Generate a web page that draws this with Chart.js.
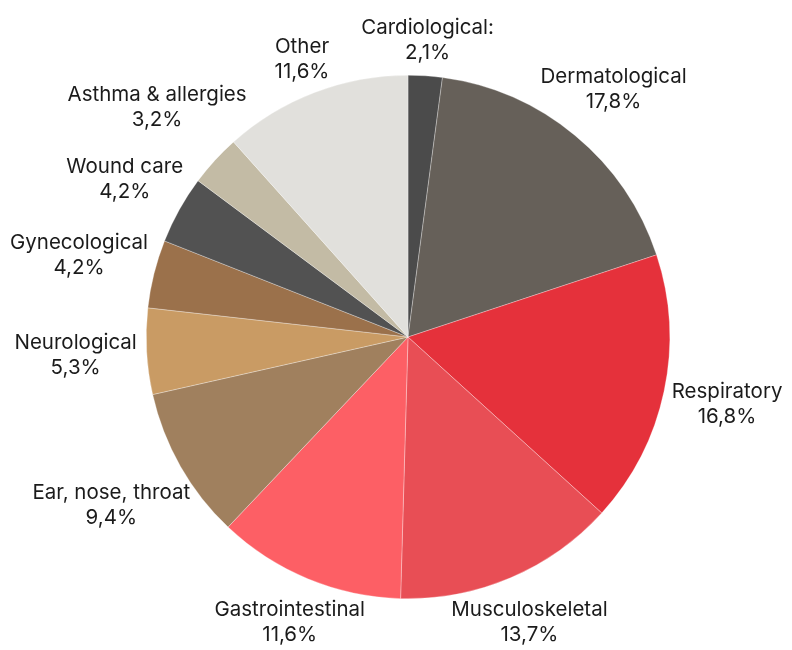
<!DOCTYPE html>
<html>
<head>
<meta charset="utf-8">
<script src="https://cdn.jsdelivr.net/npm/chart.js@4/dist/chart.umd.min.js"></script>
<style>
  html, body { margin: 0; padding: 0; background: #fff; }
  #wrap { width: 792px; height: 650px; }
</style>
</head>
<body>
<div id="wrap"><canvas id="myChart" width="792" height="650"></canvas></div>
<script>
// categories, clockwise from 12 o'clock
const categories = ['Cardiological:', 'Dermatological', 'Respiratory', 'Musculoskeletal',
  'Gastrointestinal', 'Ear, nose, throat', 'Neurological', 'Gynecological',
  'Wound care', 'Asthma & allergies', 'Other'];
const shares = [2.1, 17.8, 16.8, 13.7, 11.6, 9.4, 5.3, 4.2, 4.2, 3.2, 11.6];
const sliceColors = ['#4b4b4b', '#666059', '#e5313b', '#e84e55', '#fd5f65', '#a0805e',
  '#c99b64', '#9b714b', '#525252', '#c3bba5', '#e1e0dc'];

const FONT = '20.5px Inter';
const LINE_H = 25;

// draws "name / value%" outside each slice
const outsideLabels = {
  id: 'outsideLabels',
  afterDatasetsDraw(chart) {
    const ctx = chart.ctx;
    const arcs = chart.getDatasetMeta(0).data;
    ctx.save();
    ctx.font = FONT;
    ctx.fillStyle = '#1b1b1b';
    ctx.textAlign = 'center';
    ctx.textBaseline = 'middle';
    arcs.forEach((arc, i) => {
      const lines = [categories[i], shares[i].toFixed(1).replace('.', ',') + '%'];
      const w = Math.max(...lines.map(t => ctx.measureText(t).width));
      const h = LINE_H * lines.length;
      const mid = (arc.startAngle + arc.endAngle) / 2;
      const cx = Math.cos(mid), cy = Math.sin(mid);
      const extra = Math.sqrt(Math.pow(w / 2 * cx, 2) + Math.pow(h / 2 * cy, 2));
      const d = arc.outerRadius + 10 + extra;
      const x = arc.x + cx * d;
      const y = arc.y + cy * d;
      lines.forEach((t, k) => {
        ctx.fillText(t, x, y + (k - (lines.length - 1) / 2) * LINE_H);
      });
    });
    ctx.restore();
  }
};

function draw() {
  const ctx = document.getElementById('myChart').getContext('2d');
  new Chart(ctx, {
    type: 'pie',
    data: {
      labels: categories,
      datasets: [{
        data: shares,
        backgroundColor: sliceColors,
        borderColor: 'rgba(255,255,255,0.6)',
        borderWidth: 0.5
      }]
    },
    options: {
      responsive: false,
      animation: false,
      layout: { padding: { top: 75, bottom: 51, left: 104, right: 80 } },
      plugins: {
        legend: { display: false },
        tooltip: { enabled: false }
      }
    },
    plugins: [outsideLabels]
  });
}

document.fonts.load(FONT).then(draw, draw);
</script>
</body>
</html>
